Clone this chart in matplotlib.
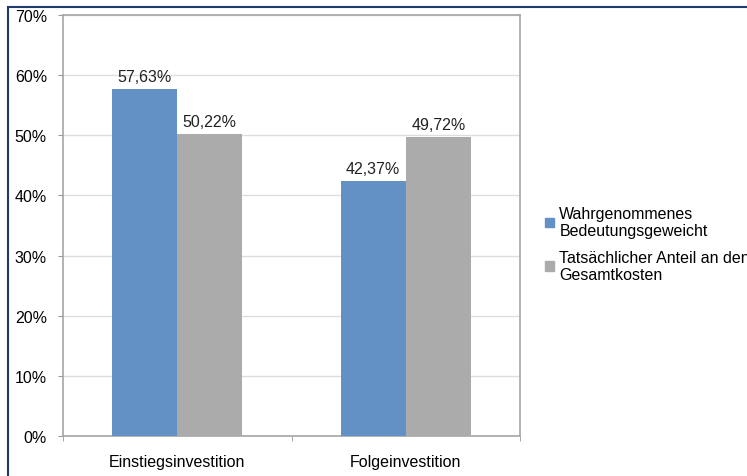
import matplotlib.pyplot as plt
from matplotlib.patches import Rectangle, Patch
import numpy as np

# Data
categories = ['Einstiegsinvestition', 'Folgeinvestition']
series_names = ['Wahrgenommenes\nBedeutungsgeweicht',
                'Tatsächlicher Anteil an den\nGesamtkosten']
perceived = [57.63, 42.37]
actual = [50.22, 49.72]
colors = ['#6391C5', '#ABABAB']

plt.rcParams['font.family'] = ['Liberation Sans', 'DejaVu Sans']
fs = 11.5

fig = plt.figure(figsize=(7.47, 4.77), dpi=100)
ax = fig.add_axes([63 / 747, 1 - 437 / 477, (520 - 63) / 747, (437 - 16) / 477])

# Outer dark blue frame (left and top visible)
fig.patches.append(Rectangle((8 / 747, -0.1), 2.0, 1 - 8 / 477 + 0.1,
                             transform=fig.transFigure, fill=False,
                             edgecolor='#1F3A6E', linewidth=1.5))

x = np.arange(len(categories))
w = 0.285
b1 = ax.bar(x - w / 2, perceived, w, color=colors[0], zorder=3)
b2 = ax.bar(x + w / 2, actual, w, color=colors[1], zorder=3)

for bars, vals in [(b1, perceived), (b2, actual)]:
    for rect, v in zip(bars, vals):
        ax.text(rect.get_x() + rect.get_width() / 2, v + 0.9,
                f"{v:.2f}%".replace('.', ','), ha='center', va='bottom',
                fontsize=fs, color='#222222')

ax.set_xlim(-0.5, 1.5)
ax.set_ylim(0, 70)
ax.set_yticks(range(0, 71, 10))
ax.set_yticklabels([f"{t}%" for t in range(0, 71, 10)], fontsize=fs)
ax.set_xticks(x)
ax.set_xticklabels(categories, fontsize=fs)
ax.set_xticks([-0.5, 0.5, 1.5], minor=True)
ax.tick_params(axis='x', which='major', length=0, pad=13)
ax.tick_params(axis='x', which='minor', length=3.6, color='#999999')
ax.tick_params(axis='y', length=3.6, color='#999999', pad=8)

ax.yaxis.grid(True, color='#DDDDDD', linewidth=1, zorder=0)
for s in ax.spines.values():
    s.set_color('#A6A6A6')
    s.set_linewidth(1.2)

handles = [Patch(color=c) for c in colors]
fig.legend(handles, series_names, loc='upper left',
           bbox_to_anchor=(537 / 747, 1 - 199 / 477), frameon=False,
           fontsize=fs, handlelength=0.55, handleheight=0.55,
           handletextpad=0.35, labelspacing=0.7, borderpad=0)

fig.savefig('out.png', dpi=100)
